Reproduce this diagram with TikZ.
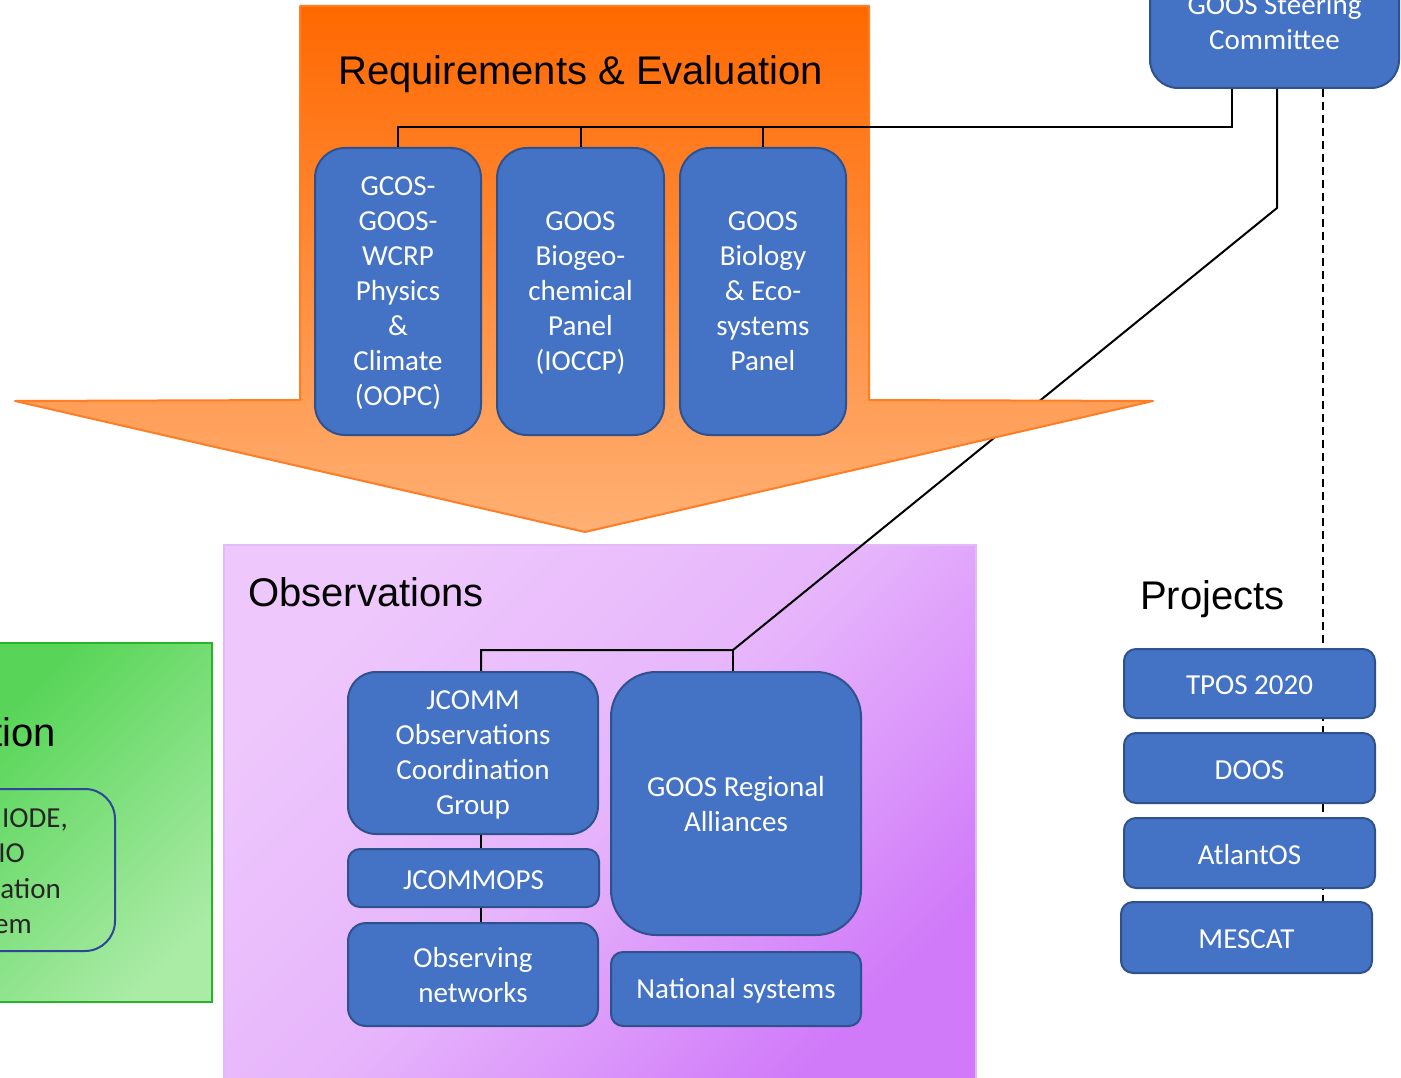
\documentclass[tikz,border=0pt]{standalone}
\usepackage{fontspec}
\setmainfont{Carlito}
\newfontfamily\arialfont{Liberation Sans}
\newcommand\diagfont{\fontsize{29}{35}\selectfont}
\definecolor{boxblue}{RGB}{68,114,196}
\definecolor{boxedge}{RGB}{47,82,143}
\definecolor{orA}{RGB}{255,104,0}
\definecolor{orB}{RGB}{255,176,116}
\definecolor{oredge}{RGB}{255,125,35}
\definecolor{purA}{RGB}{238,200,252}
\definecolor{purM}{RGB}{230,180,251}
\definecolor{purB}{RGB}{208,122,249}
\definecolor{puredge}{RGB}{228,185,250}
\definecolor{grnA}{RGB}{88,213,88}
\definecolor{grnB}{RGB}{170,235,166}
\definecolor{grnedge}{RGB}{40,180,40}
\definecolor{wisedge}{RGB}{45,70,150}
\definecolor{darktext}{RGB}{38,38,38}
\pgfdeclarelayer{back}
\pgfdeclarelayer{lines}
\pgfdeclarelayer{arrow}
\pgfsetlayers{back,lines,arrow,main}
\begin{document}
\begin{tikzpicture}[x=1pt,y=-1pt,
  conn/.style={draw=black, line width=2pt},
  dashline/.style={draw=black, line width=1.6pt, dash pattern=on 8pt off 5pt},
  topstrut/.style={execute at begin node={\rule{0pt}{#1}}},
  bluebox/.style={draw=boxedge, fill=boxblue, line width=2pt, text=white, align=center, inner sep=0pt, font=\diagfont, rounded corners=#1,
     topstrut=23pt},
  bluebox/.default=28pt,
  title/.style={font=\arialfont\fontsize{40}{48}\selectfont, text=black, inner sep=0pt, anchor=base west},
  frag/.style={font=\diagfont, text=darktext, inner sep=0pt, anchor=base east}]
\useasboundingbox (0,0) rectangle (1401,1078);
\clip (0,0) rectangle (1401,1078);

% ---------- nodes (main layer) ----------
\node[bluebox=30pt, text depth=0pt, minimum width=166pt, minimum height=287pt] (gcos) at (398,291.5)
  {GCOS-\\GOOS-\\WCRP\\Physics\\\&\\Climate\\(OOPC)};
\node[bluebox=30pt, text depth=0pt, minimum width=167pt, minimum height=287pt] (biogeo) at (580.5,291.5)
  {GOOS\\Biogeo-\\chemical\\Panel\\(IOCCP)};
\node[bluebox=30pt, text depth=-4pt, minimum width=166pt, minimum height=287pt] (biology) at (763,291.5)
  {GOOS\\Biology\\\& Eco-\\systems\\Panel};
\node[bluebox=28pt, minimum width=249pt, minimum height=131pt] (comm) at (1274.5,22.5)
  {GOOS Steering\\Committee};

\node[bluebox=28pt, text depth=0pt, minimum width=250pt, minimum height=162pt] (jcomm) at (473,753)
  {JCOMM\\Observations\\Coordination\\Group};
\node[bluebox=12pt, minimum width=251pt, minimum height=58pt] (jcommops) at (473.5,878)
  {JCOMMOPS};
\node[bluebox=18pt, text depth=-2pt, minimum width=250pt, minimum height=103pt] (obsnet) at (473,974.5)
  {Observing\\networks};
\node[bluebox=45pt, text depth=-2pt, minimum width=250pt, minimum height=263pt] (gra) at (736,803.5)
  {GOOS Regional\\Alliances};
\node[bluebox=12pt, minimum width=250pt, minimum height=74pt] (natsys) at (736,989)
  {National systems};

\node[bluebox=12pt, minimum width=251pt, minimum height=69pt] (tpos) at (1249.5,683.5) {TPOS 2020};
\node[bluebox=12pt, minimum width=251pt, minimum height=70pt] (doos) at (1249.5,768) {DOOS};
\node[bluebox=12pt, minimum width=251pt, minimum height=70pt] (atlantos) at (1249.5,853) {AtlantOS};
\node[bluebox=12pt, minimum width=251pt, minimum height=71pt] (mescat) at (1246.5,937.5) {MESCAT};

\node[title] (reqtitle) at (338,85) {Requirements \& Evaluation};
\node[title] (obstitle) at (248,606) {Observations};
\node[title] (projtitle) at (1140,609) {Projects};
\node[font=\arialfont\fontsize{40}{48}\selectfont, text=black, inner sep=0pt, anchor=base east] (gtitle) at (56,746) {tion};

\node[draw=wisedge, line width=2pt, rounded corners=30pt, minimum width=170pt, minimum height=162pt, inner sep=0pt] (wis) at (30,870) {};
\node[frag] (f1) at (68,827) {IODE,};
\node[frag] (f2) at (25,862) {IO};
\node[frag] (f3) at (61,898) {ation};
\node[frag] (f4) at (32,933) {em};

\coordinate (c1) at (1232,127);
\coordinate (c2) at (1277,208);
\coordinate (c3) at (733,650);
\coordinate (c4) at (481,650);
\coordinate (d1) at (1323,650);

% ---------- connectors on top ----------
\draw[conn] (comm.south -| c1) -- (c1) -| (gcos.north);
\draw[conn] (biogeo.north) -- (biogeo.north |- c1);
\draw[conn] (biology.north) -- (biology.north |- c1);
\draw[conn] (jcomm.south -| c4) -- (jcommops.north -| c4);
\draw[conn] (jcommops.south -| c4) -- (obsnet.north -| c4);

% ---------- orange arrow ----------
\begin{pgfonlayer}{arrow}
\shade[top color=orA, bottom color=orB]
  (300,6) -- (869,6) -- (869,400) -- (1153,401) -- (585,532) -- (15,401) -- (300,400) -- cycle;
\draw[oredge, line width=2pt, line join=round]
  (300,6) -- (869,6) -- (869,400) -- (1153,401) -- (585,532) -- (15,401) -- (300,400) -- cycle;
\end{pgfonlayer}

% ---------- lines behind the arrow ----------
\begin{pgfonlayer}{lines}
\draw[conn] (comm.south -| c2) -- (c2) -- (c3) -- (c4) -- (c4 |- jcomm.north);
\draw[conn] (c3) -- (c3 |- gra.north);
\draw[dashline] (comm.south -| d1) -- (mescat.north -| d1);
\end{pgfonlayer}

% ---------- background panels ----------
\begin{pgfonlayer}{back}
\fill[white] (0,0) rectangle (1401,1078);
\shade[top color=grnA, bottom color=grnB, shading angle=45] (-10,643) rectangle (212,1002);
\draw[grnedge, line width=2pt] (-10,643) rectangle (212,1002);
\shade[top color=purA, bottom color=purB, middle color=purM, shading angle=45] (224,545) rectangle (976,1090);
\draw[puredge, line width=2.5pt] (224,545) rectangle (976,1090);
\end{pgfonlayer}
\end{tikzpicture}
\end{document}
